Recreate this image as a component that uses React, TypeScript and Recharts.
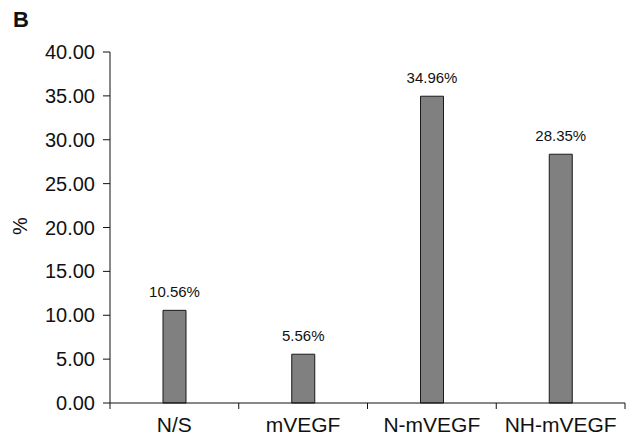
import { BarChart, Bar, XAxis, YAxis, LabelList } from "recharts";

const groups = ["N/S", "mVEGF", "N-mVEGF", "NH-mVEGF"];
const percents = [10.56, 5.56, 34.96, 28.35];
const yTicks = [0, 5, 10, 15, 20, 25, 30, 35, 40];

const data = groups.map((name, i) => ({ name, value: percents[i] }));

const font = "'Liberation Sans', Arial, sans-serif";
const X_TICK = 6;
const X_GAP = 8;

// category label plus tick marks on the group boundaries (not the centres)
function GroupTick(props: any) {
  const { x, y, payload, index } = props;
  const half = payload?.offset ?? 0;
  const y1 = y - X_TICK - X_GAP;
  const y2 = y1 + X_TICK;
  return (
    <g>
      <line x1={x + half} x2={x + half} y1={y1} y2={y2} stroke="#111" />
      {index === 0 && <line x1={x - half} x2={x - half} y1={y1} y2={y2} stroke="#111" />}
      <text x={x} y={y} dy="0.71em" textAnchor="middle" fontSize={21} fontFamily={font} fill="#111">
        {payload.value}
      </text>
    </g>
  );
}

export default function App() {
  return (
    <div style={{ position: "absolute", left: 0, top: 0, width: 634, height: 439, background: "#fff", fontFamily: font }}>
      <div style={{ position: "absolute", left: 13, top: 7, fontSize: 22, fontWeight: "bold", color: "#111" }}>B</div>
      <BarChart
        width={634}
        height={439}
        data={data}
        margin={{ top: 52, right: 9, bottom: 0, left: 0 }}
      >
        <XAxis
          dataKey="name"
          height={36}
          axisLine={{ stroke: "#111" }}
          tickLine={false}
          tickSize={X_TICK}
          tickMargin={X_GAP}
          tick={<GroupTick />}
          interval={0}
        />
        <YAxis
          width={110}
          domain={[0, 40]}
          ticks={yTicks}
          interval={0}
          tickFormatter={(v: number) => v.toFixed(2)}
          axisLine={{ stroke: "#111" }}
          tickLine={{ stroke: "#111" }}
          tickSize={7}
          tickMargin={8}
          tick={{ fill: "#111", fontSize: 20, fontFamily: font }}
          label={() => (
            <text x={20} y={226} transform="rotate(-90 20 226)" textAnchor="middle" dominantBaseline="central" fontSize={20} fontFamily={font} fill="#111">
              %
            </text>
          )}
        />
        <Bar
          dataKey="value"
          barSize={23}
          fill="#808080"
          stroke="#1a1a1a"
          strokeWidth={1}
          isAnimationActive={false}
        >
          <LabelList
            dataKey="value"
            position="top"
            offset={13}
            formatter={(v: number) => `${v.toFixed(2)}%`}
            style={{ fill: "#111", fontSize: 15, fontFamily: font }}
          />
        </Bar>
      </BarChart>
    </div>
  );
}
